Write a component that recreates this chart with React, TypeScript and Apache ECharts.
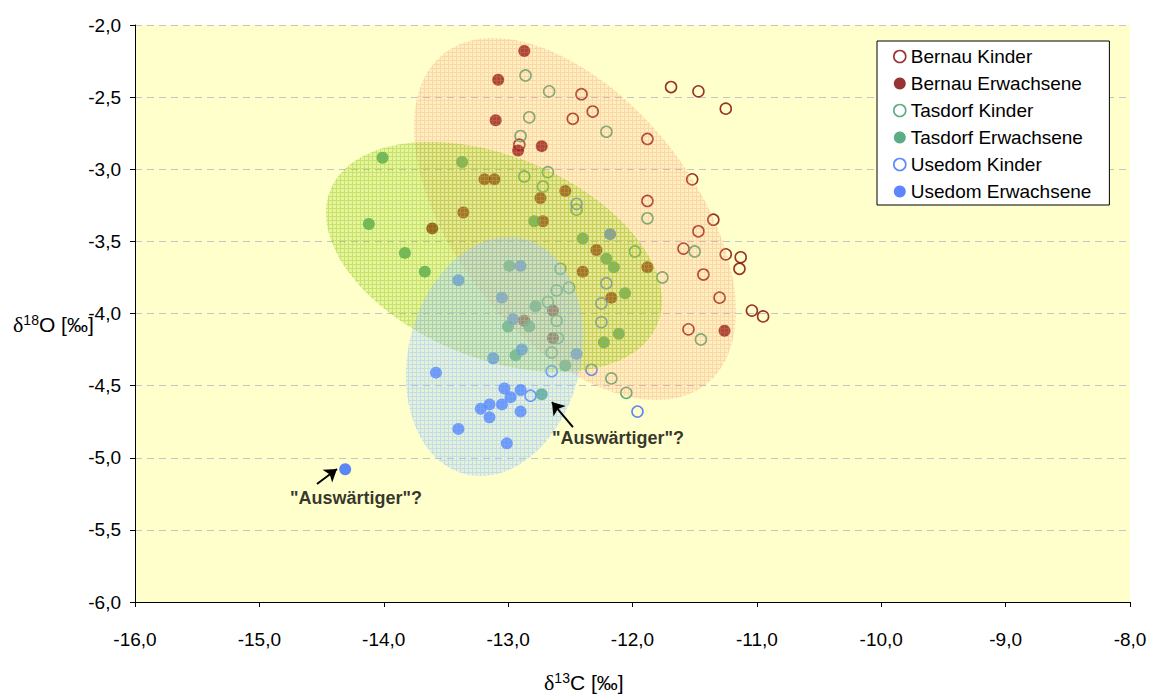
import React, { useEffect, useRef } from "react";
import * as echarts from "echarts";

// δ13C / δ18O pairs per site and age group
const bernauKinder: number[][] = [
  [-12.41, -2.48], [-12.32, -2.6], [-12.48, -2.65], [-11.69, -2.43], [-11.47, -2.46],
  [-11.25, -2.58], [-11.88, -2.79], [-11.52, -3.07], [-11.88, -3.22], [-11.35, -3.35],
  [-11.47, -3.43], [-11.59, -3.55], [-11.25, -3.59], [-11.13, -3.61], [-11.14, -3.69],
  [-11.43, -3.73], [-11.3, -3.89], [-11.04, -3.98], [-10.95, -4.02], [-11.55, -4.11],
  [-12.91, -2.83],
];
const bernauErwachsene: number[][] = [
  [-12.87, -2.18], [-13.08, -2.38], [-13.1, -2.66], [-12.73, -2.84], [-12.92, -2.87],
  [-13.19, -3.07], [-13.11, -3.07], [-12.74, -3.2], [-12.54, -3.15], [-13.36, -3.3],
  [-13.61, -3.41], [-12.72, -3.36], [-12.29, -3.56], [-11.88, -3.68], [-12.4, -3.71],
  [-12.17, -3.89], [-12.64, -3.98], [-12.87, -4.05], [-12.64, -4.17], [-11.26, -4.12],
];
const tasdorfKinder: number[][] = [
  [-12.86, -2.35], [-12.67, -2.46], [-12.83, -2.64], [-12.21, -2.74], [-12.9, -2.77],
  [-12.87, -3.05], [-12.68, -3.02], [-12.72, -3.12], [-12.45, -3.28], [-11.88, -3.34],
  [-11.98, -3.57], [-11.5, -3.57], [-12.58, -3.69], [-11.76, -3.75], [-12.61, -3.84],
  [-12.51, -3.82], [-12.68, -3.92], [-12.61, -4.05], [-12.6, -4.17], [-12.65, -4.27],
  [-12.17, -4.45], [-12.05, -4.55], [-11.45, -4.18],
];
const tasdorfErwachsene: number[][] = [
  [-14.01, -2.92], [-13.37, -2.95], [-14.12, -3.38], [-13.83, -3.58], [-13.67, -3.71],
  [-12.79, -3.36], [-12.4, -3.48], [-12.21, -3.62], [-12.15, -3.68], [-12.06, -3.86],
  [-12.99, -3.67], [-12.78, -3.95], [-13.0, -4.09], [-12.83, -4.09], [-12.11, -4.14],
  [-12.23, -4.2], [-12.94, -4.29], [-12.54, -4.36], [-12.73, -4.56],
];
const usedomKinder: number[][] = [
  [-12.45, -3.24], [-12.21, -3.79], [-12.25, -3.93], [-12.25, -4.06], [-12.65, -4.4],
  [-12.33, -4.39], [-11.96, -4.68], [-12.82, -4.57],
];
const usedomErwachsene: number[][] = [
  [-13.4, -3.77], [-12.9, -3.67], [-13.05, -3.89], [-12.96, -4.04], [-13.12, -4.31],
  [-12.89, -4.25], [-12.45, -4.28], [-12.18, -3.45], [-13.58, -4.41], [-13.03, -4.52],
  [-12.9, -4.53], [-12.98, -4.58], [-13.05, -4.63], [-13.15, -4.63], [-13.22, -4.66],
  [-13.15, -4.72], [-12.9, -4.68], [-13.4, -4.8], [-13.01, -4.9], [-14.31, -5.08],
];

const groupNames = [
  "Bernau Kinder", "Bernau Erwachsene", "Tasdorf Kinder",
  "Tasdorf Erwachsene", "Usedom Kinder", "Usedom Erwachsene",
];
const groupData = [
  bernauKinder, bernauErwachsene, tasdorfKinder,
  tasdorfErwachsene, usedomKinder, usedomErwachsene,
];
const groupColors = ["#800000", "#800000", "#339966", "#339966", "#3366FF", "#3366FF"];
const groupHollow = [true, false, true, false, true, false];

// Site ellipses in data units: centre and two semi-axis vectors
const ellipseCenters = [[-12.463, -3.345], [-13.114, -3.608], [-13.11, -4.298]];
const ellipseAxisU = [[1.056, -1.145], [1.315, -0.465], [0.231, 0.817]];
const ellipseAxisV = [[-0.749, -0.514], [-0.308, -0.648], [0.673, -0.141]];
const ellipseFills = ["rgba(255,165,125,0.18)", "rgba(170,215,40,0.28)", "rgba(160,205,255,0.28)"];
const ellipseLines = ["rgba(240,140,100,0.24)", "rgba(130,190,0,0.32)", "rgba(120,180,255,0.32)"];

// Annotations for possible non-locals
const noteText = '"Auswärtiger"?';
const notePositions = [[-12.117, -4.863], [-14.223, -5.279]];
const arrowTails = [[-12.479, -4.787], [-14.537, -5.182]];
const arrowHeads = [[-12.648, -4.614], [-14.376, -5.078]];

const xTicks = { min: -16, max: -8, step: 1 };
const yTicks = { min: -6, max: -2, step: 0.5 };

const FONT = "'Liberation Sans', Arial, sans-serif";
const fmt = (v: number) => v.toFixed(1).replace(".", ",");

function hatch(base: string, line: string) {
  const c = document.createElement("canvas");
  c.width = 4;
  c.height = 4;
  const ctx = c.getContext("2d")!;
  ctx.fillStyle = base;
  ctx.fillRect(0, 0, 4, 4);
  ctx.fillStyle = line;
  ctx.fillRect(0, 0, 4, 1);
  ctx.fillRect(0, 1, 1, 3);
  return { image: c, repeat: "repeat", imageWidth: 4, imageHeight: 4 };
}

const titleRich = {
  d: { fontFamily: "'Liberation Serif', serif", fontSize: 22, fill: "#000" },
  s: { fontFamily: FONT, fontSize: 14, verticalAlign: "top", fill: "#000" },
  a: { fontFamily: FONT, fontSize: 21, fill: "#000" },
};

export default function App() {
  const ref = useRef<HTMLDivElement>(null);

  useEffect(() => {
    document.body.style.margin = "0";
    if (!ref.current) return;
    const chart = echarts.init(ref.current, undefined, { renderer: "svg" });
    const patterns = ellipseFills.map((f, i) => hatch(f, ellipseLines[i]));

    const scatterSeries = groupNames.map((name, i) => ({
      type: "scatter",
      name,
      data: groupData[i],
      symbol: "circle",
      symbolSize: groupHollow[i] ? 11 : 12,
      itemStyle: groupHollow[i]
        ? { color: "transparent", borderColor: groupColors[i], borderWidth: 1.6 }
        : { color: groupColors[i] },
      z: 2,
      silent: true,
    }));

    const option: any = {
      animation: false,
      backgroundColor: "#ffffff",
      grid: {
        left: 135, right: 22, top: 25, bottom: 95,
        show: true, backgroundColor: "#FFFFCC", borderWidth: 0,
      },
      xAxis: {
        type: "value",
        min: xTicks.min, max: xTicks.max, interval: xTicks.step,
        axisLine: { show: true, onZero: false, lineStyle: { color: "#000", width: 1 } },
        axisTick: { show: true, length: 5, lineStyle: { color: "#000" } },
        axisLabel: { margin: 28, formatter: fmt, fontSize: 19, fontFamily: FONT, color: "#000" },
        splitLine: { show: false },
      },
      yAxis: {
        type: "value",
        min: yTicks.min, max: yTicks.max, interval: yTicks.step,
        axisLine: { show: true, onZero: false, lineStyle: { color: "#000", width: 1 } },
        axisTick: { show: true, length: 5, lineStyle: { color: "#000" } },
        axisLabel: { margin: 14, formatter: fmt, fontSize: 19, fontFamily: FONT, color: "#000" },
        splitLine: { show: true, lineStyle: { color: "#C4C4C4", type: [7, 5], width: 1 } },
      },
      legend: {
        orient: "vertical",
        left: 877, top: 41,
        padding: [6, 18, 4, 16],
        itemGap: 8,
        itemWidth: 12, itemHeight: 12,
        backgroundColor: "#ffffff",
        borderColor: "#000", borderWidth: 1, borderRadius: 0,
        textStyle: { fontSize: 19, fontFamily: FONT, color: "#000" },
        selectedMode: false,
        data: groupNames.map((name, i) => ({
          name,
          icon: "circle",
          itemStyle: groupHollow[i]
            ? { color: "#ffffff", borderColor: groupColors[i], borderWidth: 1.6 }
            : { color: groupColors[i], borderWidth: 0 },
        })),
      },
      graphic: [
        {
          type: "text", left: 544, top: 671, silent: true,
          style: { text: "{d|δ}{s|13}{a|C [‰]}", rich: titleRich },
        },
        {
          type: "text", left: 13, top: 313, silent: true,
          style: { text: "{d|δ}{s|18}{a|O [‰]}", rich: titleRich },
        },
      ],
      series: [
        ...scatterSeries,
        {
          type: "custom",
          name: "Ellipsen",
          coordinateSystem: "cartesian2d",
          silent: true,
          z: 3,
          clip: false,
          data: ellipseCenters.map((c, i) => [c[0], c[1], i]),
          encode: { x: 0, y: 1 },
          renderItem: (params: any, api: any) => {
            const i = api.value(2);
            const c = ellipseCenters[i];
            const u = ellipseAxisU[i];
            const v = ellipseAxisV[i];
            const pts: number[][] = [];
            for (let k = 0; k < 120; k++) {
              const t = (k / 120) * Math.PI * 2;
              pts.push(
                api.coord([
                  c[0] + u[0] * Math.cos(t) + v[0] * Math.sin(t),
                  c[1] + u[1] * Math.cos(t) + v[1] * Math.sin(t),
                ])
              );
            }
            return {
              type: "polygon",
              shape: { points: pts },
              style: { fill: patterns[i], stroke: null },
            };
          },
        },
        {
          type: "scatter",
          name: "Hinweise",
          data: notePositions,
          symbolSize: 1,
          itemStyle: { color: "transparent" },
          z: 4,
          silent: true,
          label: {
            show: true,
            position: "inside",
            formatter: noteText,
            fontSize: 18,
            fontWeight: "bold",
            fontFamily: FONT,
            color: "#000",
          },
          markLine: {
            silent: true,
            symbol: ["none", "arrow"],
            symbolSize: 12,
            label: { show: false },
            lineStyle: { color: "#000", width: 2, type: "solid" },
            emphasis: { disabled: true },
            data: arrowTails.map((t, i) => [
              { coord: t, symbol: "none" },
              { coord: arrowHeads[i], symbol: "arrow", symbolSize: 12 },
            ]),
          },
        },
      ],
    };

    chart.setOption(option);
    return () => chart.dispose();
  }, []);

  return <div ref={ref} style={{ width: 1152, height: 697 }} />;
}
